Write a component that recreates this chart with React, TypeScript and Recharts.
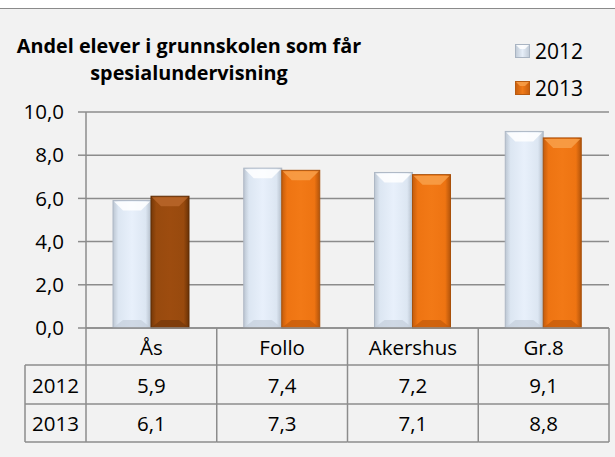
import React from 'react';
import { BarChart, Bar, XAxis, YAxis, CartesianGrid, Cell } from 'recharts';

const categories = ['Ås', 'Follo', 'Akershus', 'Gr.8'];
const values2012 = [5.9, 7.4, 7.2, 9.1];
const values2013 = [6.1, 7.3, 7.1, 8.8];
const seriesNames = ['2012', '2013'];
const yTicks = [0, 2, 4, 6, 8, 10];
const titleLines = ['Andel elever i grunnskolen som får', 'spesialundervisning'];

const data = categories.map((c, i) => ({ name: c, v2012: values2012[i], v2013: values2013[i] }));

const FONT = '"Open Sans", "Liberation Sans", sans-serif';
const GRID = '#8c8c8c';
const fmt = (v: number) => v.toFixed(1).replace('.', ',');

const PLOT_BOTTOM = 328;
const ROW1 = 365;
const ROW2 = 404;
const ROW3 = 442;
const TABLE_LEFT = 25;
const TXT = 20.5;

const TableTick = (props: any) => {
  const { x, payload, index, visibleTicksCount } = props;
  const n = visibleTicksCount || categories.length;
  const bw = 523 / n;
  const left = x - bw / 2;
  const right = Math.min(x + bw / 2, 609);
  const i = payload.index ?? index;
  return (
    <g>
      <line x1={right} y1={PLOT_BOTTOM} x2={right} y2={ROW3} stroke={GRID} strokeWidth={1.5} />
      <line x1={left} y1={ROW1} x2={right} y2={ROW1} stroke={GRID} strokeWidth={1.5} />
      <line x1={left} y1={ROW2} x2={right} y2={ROW2} stroke={GRID} strokeWidth={1.5} />
      <line x1={left} y1={ROW3} x2={right} y2={ROW3} stroke={GRID} strokeWidth={1.5} />
      <text x={x} y={347} textAnchor="middle" dominantBaseline="central" fontSize={TXT} fontFamily={FONT} fill="#000">
        {payload.value}
      </text>
      <text x={x} y={385} textAnchor="middle" dominantBaseline="central" fontSize={TXT} fontFamily={FONT} fill="#000">
        {fmt(values2012[i])}
      </text>
      <text x={x} y={423} textAnchor="middle" dominantBaseline="central" fontSize={TXT} fontFamily={FONT} fill="#000">
        {fmt(values2013[i])}
      </text>
      {i === 0 && (
        <g>
          <line x1={left} y1={PLOT_BOTTOM} x2={left} y2={ROW3} stroke={GRID} strokeWidth={1.5} />
          <line x1={TABLE_LEFT} y1={ROW1} x2={left} y2={ROW1} stroke={GRID} strokeWidth={1.5} />
          <line x1={TABLE_LEFT} y1={ROW2} x2={left} y2={ROW2} stroke={GRID} strokeWidth={1.5} />
          <line x1={TABLE_LEFT} y1={ROW3} x2={left} y2={ROW3} stroke={GRID} strokeWidth={1.5} />
          <line x1={TABLE_LEFT} y1={ROW1} x2={TABLE_LEFT} y2={ROW3} stroke={GRID} strokeWidth={1.5} />
          <text x={(TABLE_LEFT + left) / 2} y={385} textAnchor="middle" dominantBaseline="central" fontSize={TXT} fontFamily={FONT} fill="#000">
            {seriesNames[0]}
          </text>
          <text x={(TABLE_LEFT + left) / 2} y={423} textAnchor="middle" dominantBaseline="central" fontSize={TXT} fontFamily={FONT} fill="#000">
            {seriesNames[1]}
          </text>
        </g>
      )}
    </g>
  );
};

type Pal = { grad: string; top: string; bottom: string; stroke: string };
const PAL_2012: Pal = { grad: 'url(#g2012)', top: '#ffffff', bottom: '#c4cedb', stroke: '#aeb8c5' };
const PAL_2013: Pal = { grad: 'url(#g2013)', top: '#f8a04a', bottom: '#c25a0a', stroke: '#a8500a' };
const PAL_AS: Pal = { grad: 'url(#gAs)', top: '#b8662a', bottom: '#74380a', stroke: '#5e2c04' };

const BevelBar = (pal: (i: number) => Pal) => (props: any) => {
  const { x, y, width, height, index } = props;
  if (!height || height <= 0) return null;
  const p = pal(index);
  const b = Math.min(10, width / 3.5);
  return (
    <g>
      <rect x={x} y={y} width={width} height={height} fill={p.grad} stroke={p.stroke} strokeWidth={1} />
      <polygon points={`${x + 1},${y + 1} ${x + width - 1},${y + 1} ${x + width - b},${y + b} ${x + b},${y + b}`} fill={p.top} opacity={0.85} />
      <polygon points={`${x + 1},${y + height - 1} ${x + width - 1},${y + height - 1} ${x + width - b},${y + height - b * 0.8} ${x + b},${y + height - b * 0.8}`} fill={p.bottom} opacity={0.7} />
    </g>
  );
};

const LegendBox = () => (
  <div style={{ position: 'absolute', left: 515, top: 32, fontFamily: FONT, fontSize: 21, color: '#000' }}>
    {seriesNames.map((s, i) => (
      <div key={s} style={{ display: 'flex', alignItems: 'center', height: 37 }}>
        <svg width={15} height={14} style={{ marginRight: 5 }}>
          <defs>
            <linearGradient id={i === 0 ? 'leg2012' : 'leg2013'} x1="0" y1="0" x2="1" y2="0">
              <stop offset="0" stopColor={i === 0 ? '#c0cad6' : '#c85e0e'} />
              <stop offset="0.5" stopColor={i === 0 ? '#e6eef8' : '#f07a18'} />
              <stop offset="1" stopColor={i === 0 ? '#c0cad6' : '#c85e0e'} />
            </linearGradient>
          </defs>
          <rect x={0.5} y={0.5} width={14} height={13} fill={i === 0 ? 'url(#leg2012)' : 'url(#leg2013)'} stroke={i === 0 ? '#a9b4c2' : '#b85a10'} />
          <polygon points="1,1 14,1 10,5 5,5" fill={i === 0 ? '#ffffff' : '#f8a04a'} opacity={0.85} />
        </svg>
        <span>{s}</span>
      </div>
    ))}
  </div>
);

export default function App() {
  return (
    <div style={{ position: 'absolute', left: 0, top: 0, width: 615, height: 457, background: '#fff', overflow: 'hidden' }}>
      <div style={{ position: 'absolute', left: 0, top: 8, width: 640, height: 480, background: '#f2f2f2', borderTop: '1.5px solid #8a8a8a' }} />
      <div style={{ position: 'absolute', left: 0, top: 0 }}>
        <BarChart width={615} height={457} data={data} margin={{ top: 112, right: 6, bottom: 0, left: 0 }} barGap={0} barSize={38}>
          <defs>
            <linearGradient id="g2012" x1="0" y1="0" x2="1" y2="0">
              <stop offset="0" stopColor="#bcc6d2" />
              <stop offset="0.14" stopColor="#dce6f2" />
              <stop offset="0.5" stopColor="#e8f0fb" />
              <stop offset="0.86" stopColor="#dce6f2" />
              <stop offset="1" stopColor="#b3bdc9" />
            </linearGradient>
            <linearGradient id="g2013" x1="0" y1="0" x2="1" y2="0">
              <stop offset="0" stopColor="#c45c0c" />
              <stop offset="0.14" stopColor="#ee7412" />
              <stop offset="0.5" stopColor="#f27916" />
              <stop offset="0.86" stopColor="#ee7412" />
              <stop offset="1" stopColor="#b3540a" />
            </linearGradient>
            <linearGradient id="gAs" x1="0" y1="0" x2="1" y2="0">
              <stop offset="0" stopColor="#763808" />
              <stop offset="0.14" stopColor="#984a0e" />
              <stop offset="0.5" stopColor="#9d4c0f" />
              <stop offset="0.86" stopColor="#984a0e" />
              <stop offset="1" stopColor="#6a3206" />
            </linearGradient>
          </defs>
          <CartesianGrid vertical={false} stroke={GRID} strokeWidth={1.5} />
          <XAxis dataKey="name" height={129} axisLine={{ stroke: GRID, strokeWidth: 1.5 }} tickLine={false} interval={0} tick={<TableTick />} />
          <YAxis
            width={86}
            domain={[0, 10]}
            ticks={yTicks}
            tickFormatter={fmt}
            axisLine={{ stroke: GRID, strokeWidth: 1.5 }}
            tickLine={{ stroke: GRID, strokeWidth: 1.5 }}
            tickSize={8}
            tickMargin={14}
            tick={{ fontSize: TXT, fontFamily: FONT, fill: '#000' }}
          />
          <Bar dataKey="v2012" name={seriesNames[0]} fill="url(#g2012)" isAnimationActive={false} shape={BevelBar(() => PAL_2012)} />
          <Bar dataKey="v2013" name={seriesNames[1]} fill="url(#g2013)" isAnimationActive={false} shape={BevelBar((i) => (i === 0 ? PAL_AS : PAL_2013))}>
            {data.map((d, i) => (
              <Cell key={d.name} fill={i === 0 ? 'url(#gAs)' : 'url(#g2013)'} />
            ))}
          </Bar>
        </BarChart>
      </div>
      <LegendBox />
      <div style={{ position: 'absolute', left: 0, top: 32, width: 378, textAlign: 'center', fontFamily: FONT, fontWeight: 700, fontSize: 19.8, lineHeight: '27px', color: '#000' }}>
        <div>{titleLines[0]}</div>
        <div>{titleLines[1]}</div>
      </div>
    </div>
  );
}
